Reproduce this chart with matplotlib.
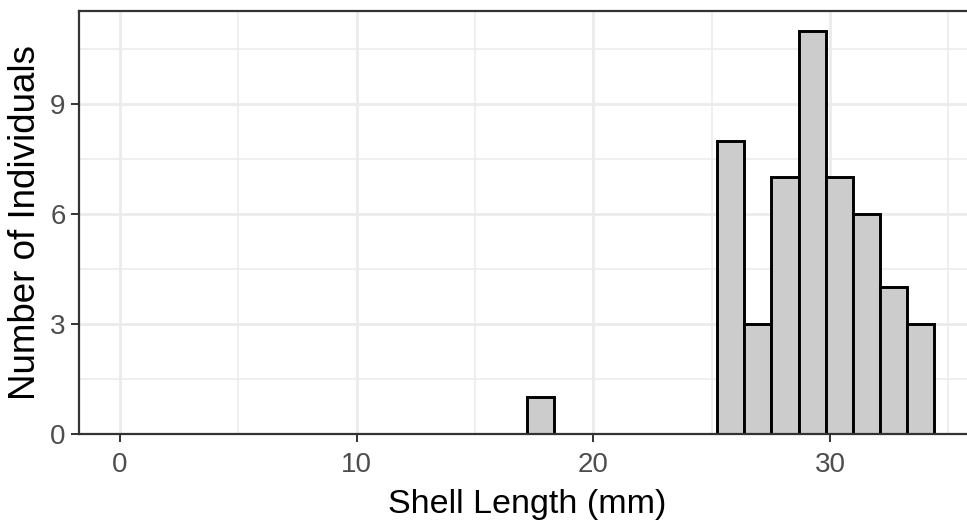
import numpy as np
import matplotlib
matplotlib.use("Agg")
import matplotlib.pyplot as plt

plt.rcParams["font.family"] = ["Liberation Sans", "DejaVu Sans"]

# Histogram of shell lengths: 30 bins spanning 0 to 34.4 mm
bin_start = 0.0
bin_end = 34.4
counts = [0, 0, 0, 0, 0, 0, 0, 0, 0, 0,
          0, 0, 0, 0, 0, 1, 0, 0, 0, 0,
          0, 0, 8, 3, 7, 11, 7, 6, 4, 3]
x_ticks = [0, 10, 20, 30]
y_ticks = [0, 3, 6, 9]
x_label = "Shell Length (mm)"
y_label = "Number of Individuals"

n_bins = len(counts)
edges = np.linspace(bin_start, bin_end, n_bins + 1)
width = edges[1] - edges[0]

W, H = 967, 527
fig = plt.figure(figsize=(W / 100, H / 100), dpi=100)
fig.patch.set_facecolor("white")

# panel placement (extends slightly past the right edge of the canvas)
x_lo = bin_start - 0.05 * (bin_end - bin_start)
x_hi = bin_end + 0.05 * (bin_end - bin_start)
y_hi = max(counts) * 1.05
px_per_x = 23.67
left_px = 120 + x_lo * px_per_x
right_px = 120 + x_hi * px_per_x
top_px, bottom_px = 10.5, 434
ax = fig.add_axes([left_px / W, (H - bottom_px) / H,
                   (right_px - left_px) / W, (bottom_px - top_px) / H])
ax.set_facecolor("white")

ax.bar(edges[:-1], counts, width=width, align="edge",
       color="#CCCCCC", edgecolor="black", linewidth=2.1, zorder=2)

ax.set_xlim(x_lo, x_hi)
ax.set_ylim(0, y_hi)
ax.set_xticks(x_ticks)
ax.set_yticks(y_ticks)
ax.set_xticks([5, 15, 25, 35], minor=True)
ax.set_yticks([1.5, 4.5, 7.5, 10.5], minor=True)

ax.grid(which="major", color="#EBEBEB", linewidth=2.0, zorder=0)
ax.grid(which="minor", color="#EBEBEB", linewidth=1.1, zorder=0)
ax.set_axisbelow(True)

for sp in ax.spines.values():
    sp.set_color("#333333")
    sp.set_linewidth(1.6)
    sp.set_zorder(5)

ax.tick_params(axis="x", which="major", length=5.8, width=1.4, color="#333333",
               labelcolor="#4D4D4D", labelsize=20, pad=7)
ax.tick_params(axis="y", which="major", length=5.8, width=1.4, color="#333333",
               labelcolor="#4D4D4D", labelsize=20, pad=4)
ax.tick_params(which="minor", length=0)

ax.set_xlabel(x_label, fontsize=24.5, color="black", labelpad=8)
ax.set_ylabel(y_label, fontsize=26.5, color="black", labelpad=5)

fig.savefig("out.png", dpi=100, facecolor="white")
